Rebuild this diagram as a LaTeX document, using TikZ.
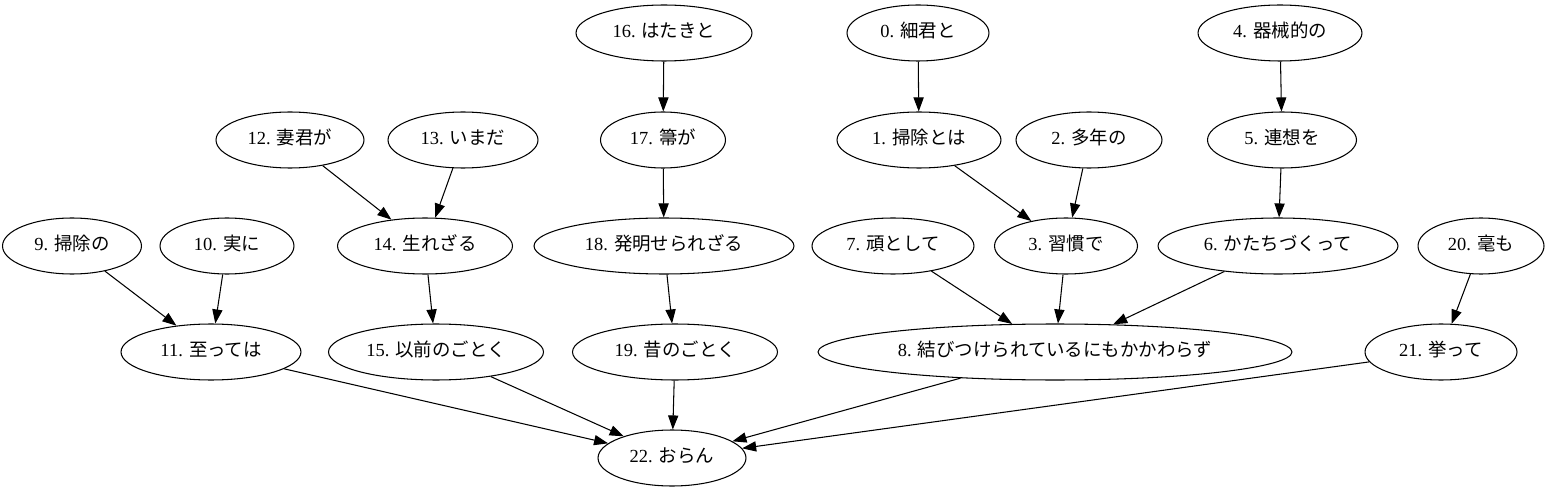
\documentclass[tikz,border=0pt]{standalone}
\usepackage{fontspec}
\setmainfont{Liberation Serif}
\newfontfamily\cjk{Noto Sans CJK JP}
\usetikzlibrary{shapes.geometric,arrows.meta}

\begin{document}
\begin{tikzpicture}[
    x=0.02cm, y=-0.02cm,
    word/.style={draw, ellipse, inner sep=0pt, minimum height=1.12cm, text height=8pt, text depth=3.4pt, line width=0.6pt, font=\fontsize{10.5}{12}\selectfont},
    dep/.style={-{Triangle[length=8pt,width=5.8pt]}, line width=0.6pt},
]
\useasboundingbox (0,0) rectangle (1548,493);
% row 1
\node[word, minimum width=3.52cm] (w16) at (664,33)  {16. {\cjk はたきと}};
\node[word, minimum width=2.84cm] (w0)  at (918,33)  {0. {\cjk 細君と}};
\node[word, minimum width=3.28cm] (w4)  at (1280,33) {4. {\cjk 器械的の}};
% row 2
\node[word, minimum width=2.96cm] (w12) at (290,140)  {12. {\cjk 妻君が}};
\node[word, minimum width=3.0cm]  (w13) at (463,140)  {13. {\cjk いまだ}};
\node[word, minimum width=2.5cm]  (w17) at (663,140)  {17. {\cjk 箒が}};
\node[word, minimum width=3.28cm] (w1)  at (919,140)  {1. {\cjk 掃除とは}};
\node[word, minimum width=2.92cm] (w2)  at (1089,140) {2. {\cjk 多年の}};
\node[word, minimum width=2.98cm] (w5)  at (1282,140) {5. {\cjk 連想を}};
% row 3
\node[word, minimum width=2.78cm] (w9)  at (72,246)   {9. {\cjk 掃除の}};
\node[word, minimum width=2.68cm] (w10) at (227,246)  {10. {\cjk 実に}};
\node[word, minimum width=3.5cm]  (w14) at (425,246)  {14. {\cjk 生れざる}};
\node[word, minimum width=5.2cm]  (w18) at (664,246)  {18. {\cjk 発明せられざる}};
\node[word, minimum width=3.24cm] (w7)  at (893,246)  {7. {\cjk 頑として}};
\node[word, minimum width=2.86cm] (w3)  at (1066,246) {3. {\cjk 習慣で}};
\node[word, minimum width=4.8cm]  (w6)  at (1278,246) {6. {\cjk かたちづくって}};
\node[word, minimum width=2.52cm] (w20) at (1481,246) {20. {\cjk 毫も}};
% row 4
\node[word, minimum width=3.6cm]  (w11) at (211,352)  {11. {\cjk 至っては}};
\node[word, minimum width=4.3cm]  (w15) at (436,352)  {15. {\cjk 以前のごとく}};
\node[word, minimum width=4.1cm]  (w19) at (675,352)  {19. {\cjk 昔のごとく}};
\node[word, minimum width=9.48cm] (w8)  at (1055,352) {8. {\cjk 結びつけられているにもかかわらず}};
\node[word, minimum width=3.04cm] (w21) at (1441,352) {21. {\cjk 挙って}};
% root
\node[word, minimum width=2.96cm] (w22) at (672,458)  {22. {\cjk おらん}};

\draw[dep] (w16) -- (w17);
\draw[dep] (w17) -- (w18);
\draw[dep] (w18) -- (w19);
\draw[dep] (w0) -- (w1);
\draw[dep] (w4) -- (w5);
\draw[dep] (w5) -- (w6);
\draw[dep] (w1) -- (w3);
\draw[dep] (w2) -- (w3);
\draw[dep] (w3) -- (w8);
\draw[dep] (w7) -- (w8);
\draw[dep] (w6) -- (w8);
\draw[dep] (w12) -- (w14);
\draw[dep] (w13) -- (w14);
\draw[dep] (w14) -- (w15);
\draw[dep] (w9) -- (w11);
\draw[dep] (w10) -- (w11);
\draw[dep] (w20) -- (w21);
\draw[dep] (w11) -- (w22);
\draw[dep] (w15) -- (w22);
\draw[dep] (w19) -- (w22);
\draw[dep] (w8) -- (w22);
\draw[dep] (w21) -- (w22);
\end{tikzpicture}
\end{document}
